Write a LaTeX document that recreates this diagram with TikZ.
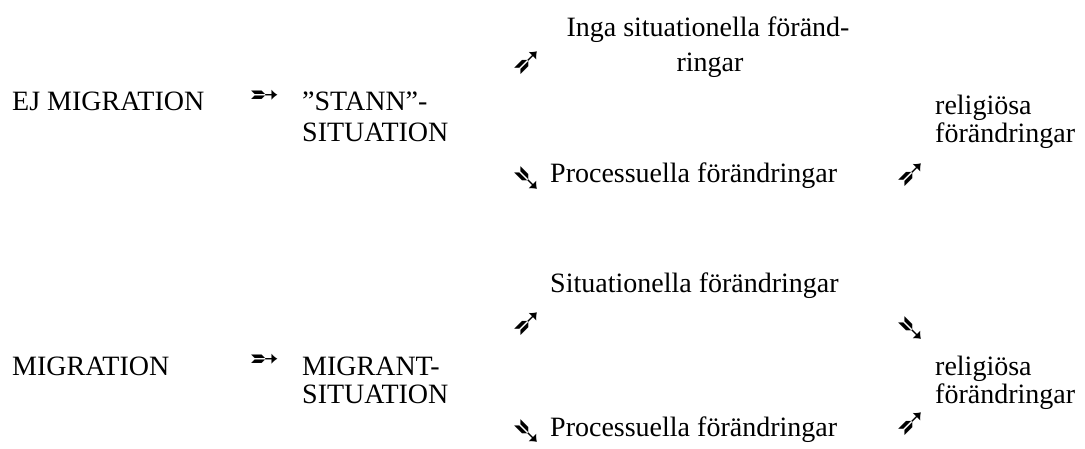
\documentclass[tikz,border=0pt]{standalone}
\usepackage{fontspec}
\setmainfont{Liberation Serif}
\newfontfamily\symf{DejaVu Sans}
\tikzset{
  txt/.style={anchor=base west, inner sep=0pt, font=\fontsize{28}{31}\selectfont},
  ctxt/.style={txt, anchor=base},
  arr/.style={inner sep=0pt, font=\symf\fontsize{38}{38}\selectfont},
  rarr/.style={inner sep=0pt, font=\symf\fontsize{36}{36}\selectfont}
}
\begin{document}
\begin{tikzpicture}
\useasboundingbox (0,0) rectangle (1085pt,-449pt);
% row 1
\node[txt] (ej) at (12pt,-111pt) {EJ MIGRATION};
\node[rarr] (a1) at (265pt,-98pt) {➵};
\node[txt] (stann) at (302pt,-111pt) {”STANN”-};
\node[txt] (sit1) at (302pt,-142pt) {SITUATION};
\node[ctxt] (inga) at (708pt,-37pt) {Inga situationella föränd-};
\node[ctxt] (ringar) at (710pt,-72pt) {ringar};
\node[arr] (a2) at (527pt,-63pt) {➶};
\node[arr] (a3) at (527pt,-179pt) {➴};
\node[txt] (proc1) at (550pt,-183pt) {Processuella förändringar};
\node[txt] (rel1) at (935pt,-115pt) {religiösa};
\node[txt] (fr1) at (935pt,-143pt) {förändringar};
\node[arr] (a4) at (911pt,-175pt) {➶};
% row 2
\node[txt] (sit2a) at (550pt,-293pt) {Situationella förändringar};
\node[arr] (a5) at (527pt,-324pt) {➶};
\node[arr] (a6) at (911pt,-329pt) {➴};
\node[txt] (mig) at (12pt,-375pt) {MIGRATION};
\node[rarr] (a7) at (265pt,-362pt) {➵};
\node[txt] (migr) at (302pt,-375pt) {MIGRANT-};
\node[txt] (sit2) at (302pt,-403pt) {SITUATION};
\node[txt] (rel2) at (935pt,-375pt) {religiösa};
\node[txt] (fr2) at (935pt,-403pt) {förändringar};
\node[arr] (a8) at (527pt,-432pt) {➴};
\node[txt] (proc2) at (550pt,-436pt) {Processuella förändringar};
\node[arr] (a9) at (911pt,-424pt) {➶};
\end{tikzpicture}
\end{document}
